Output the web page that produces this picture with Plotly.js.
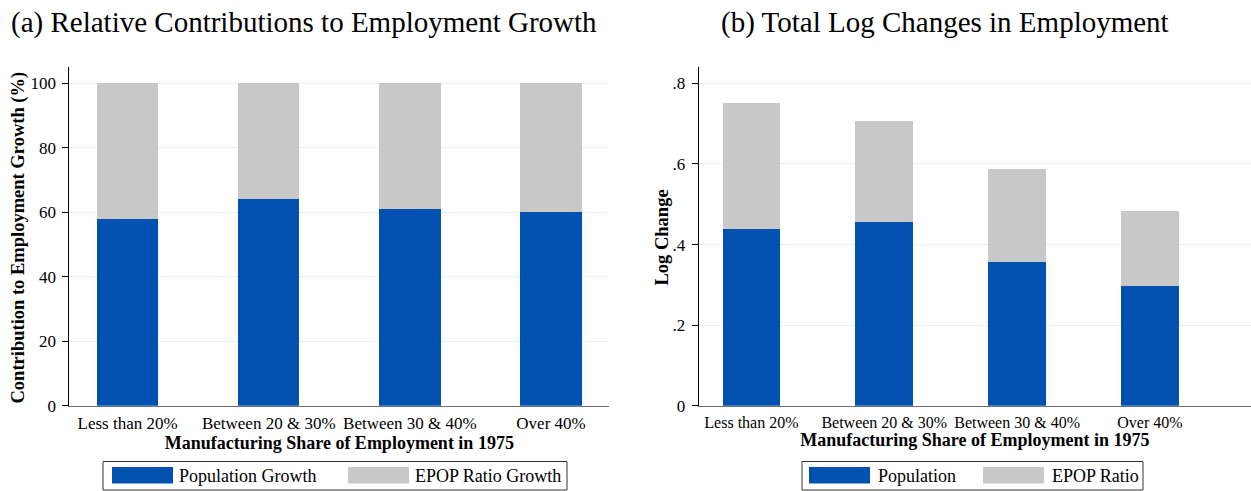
<!DOCTYPE html>
<html>
<head>
<meta charset="utf-8">
<script src="https://cdn.plot.ly/plotly-3.0.1.min.js"></script>
<style>html,body{margin:0;padding:0;background:#fff;}#chart{width:1251px;height:491px;}</style>
</head>
<body>
<div id="chart"></div>
<script>
// ---- data ----
var categories = ["Less than 20%", "Between 20 & 30%", "Between 30 & 40%", "Over 40%"];
var popShare  = [57.8, 64.0, 61.0, 60.2];      // Population Growth (%)
var epopShare = [42.2, 36.0, 39.0, 39.8];      // EPOP Ratio Growth (%)
var popLog    = [0.438, 0.456, 0.357, 0.297];  // Population log change
var epopLog   = [0.313, 0.251, 0.230, 0.186];  // EPOP Ratio log change
var leftTicks  = [0, 20, 40, 60, 80, 100];
var rightTicks = [0, 0.2, 0.4, 0.6, 0.8];
var rightTickText = ["0", ".2", ".4", ".6", ".8"];
var titleA = "(a) Relative Contributions to Employment Growth";
var titleB = "(b) Total Log Changes in Employment";
var xTitle = "Manufacturing Share of Employment in 1975";
var yTitleA = "Contribution to Employment Growth (%)";
var yTitleB = "Log Change";
var legendA = ["Population Growth", "EPOP Ratio Growth"];
var legendB = ["Population", "EPOP Ratio"];

// ---- style ----
var W = 1251, H = 491;
function px(x){ return x / W; }
function py(y){ return 1 - y / H; }
var BLUE = "#0051B0", GRAY = "#C8C8C8";
var FONT = "Liberation Serif, Times New Roman, serif";
var GRID = "#e6eff1";
var BW = 0.434;

var traces = [
  {type:"bar", x:categories, y:popShare, name:legendA[0], marker:{color:BLUE}, width:BW, xaxis:"x", yaxis:"y"},
  {type:"bar", x:categories, y:epopShare, name:legendA[1], marker:{color:GRAY}, width:BW, xaxis:"x", yaxis:"y"},
  {type:"bar", x:categories, y:popLog, name:legendB[0], marker:{color:BLUE}, width:BW, xaxis:"x2", yaxis:"y2"},
  {type:"bar", x:categories, y:epopLog, name:legendB[1], marker:{color:GRAY}, width:BW, xaxis:"x2", yaxis:"y2"}
];

var yDom = [py(405.7), py(67.3)];
var tickFont = {family:FONT, size:17, color:"#000"};
var axTitleFont = {family:FONT, size:18, color:"#000", weight:"bold"};

function xax(dom, rng, fs){
  return {domain:dom, range:rng, type:"category", showline:true, linecolor:"#6e6e6e", linewidth:1.6,
    ticks:"", showgrid:false, zeroline:false, tickfont:{family:FONT, size:fs, color:"#000"}, tickangle:0, ticklabelstandoff:1,
    title:{text:xTitle, font:axTitleFont, standoff:2}, fixedrange:true};
}
function yax(rng, tv, tt){
  return {domain:yDom, range:rng, tickvals:tv, ticktext:tt, showline:true, linecolor:"#000", linewidth:1,
    ticks:"outside", ticklen:6, tickcolor:"#000", tickwidth:1, showgrid:true, gridcolor:GRID, gridwidth:1,
    zeroline:false, tickfont:tickFont, ticklabelstandoff:3, fixedrange:true};
}

var shapes = [], annotations = [];
function legendBox(x0, x1, items){
  shapes.push({type:"rect", xref:"paper", yref:"paper", x0:px(x0), x1:px(x1), y0:py(490), y1:py(461.5),
    line:{color:"#333", width:1}, fillcolor:"rgba(0,0,0,0)"});
  items.forEach(function(it){
    shapes.push({type:"rect", xref:"paper", yref:"paper", x0:px(it.s0), x1:px(it.s0+61), y0:py(483.5), y1:py(467),
      line:{width:0}, fillcolor:it.c});
    annotations.push({xref:"paper", yref:"paper", x:px(it.t), y:py(476), xanchor:"left", yanchor:"middle",
      text:it.label, showarrow:false, font:{family:FONT, size:18, color:"#000"}});
  });
}
legendBox(103, 567, [{s0:112, t:177, c:BLUE, label:legendA[0]}, {s0:348, t:413, c:GRAY, label:legendA[1]}]);
legendBox(802, 1143, [{s0:809, t:876, c:BLUE, label:legendB[0]}, {s0:983, t:1050, c:GRAY, label:legendB[1]}]);

annotations.push({xref:"paper", yref:"paper", x:px(304), y:py(22), xanchor:"center", yanchor:"middle",
  text:titleA, showarrow:false, font:{family:FONT, size:29, color:"#000"}});
annotations.push({xref:"paper", yref:"paper", x:px(945), y:py(22), xanchor:"center", yanchor:"middle",
  text:titleB, showarrow:false, font:{family:FONT, size:29, color:"#000"}});
annotations.push({xref:"paper", yref:"paper", x:px(18), y:py(237.5), xanchor:"center", yanchor:"middle",
  textangle:-90, text:yTitleA, showarrow:false, font:{family:FONT, size:18.5, color:"#000", weight:"bold"}});
annotations.push({xref:"paper", yref:"paper", x:px(661.5), y:py(238), xanchor:"center", yanchor:"middle",
  textangle:-90, text:yTitleB, showarrow:false, font:{family:FONT, size:18.5, color:"#000", weight:"bold"}});

var layout = {
  width:W, height:H, margin:{l:0, r:0, t:0, b:0},
  paper_bgcolor:"#fff", plot_bgcolor:"#fff",
  barmode:"stack", showlegend:false,
  xaxis: xax([px(69.3), px(609.3)], [-0.413, 3.413], 17),
  yaxis: yax([0, 105], leftTicks, leftTicks.map(String)),
  xaxis2: xax([px(698.7), 1], [-0.397, 3.761], 16),
  yaxis2: yax([0, 0.84], rightTicks, rightTickText),
  shapes: shapes, annotations: annotations
};
layout.xaxis2.anchor = "y2";
layout.yaxis2.anchor = "x2";

Plotly.newPlot("chart", traces, layout, {displayModeBar:false, staticPlot:true});
</script>
</body>
</html>
